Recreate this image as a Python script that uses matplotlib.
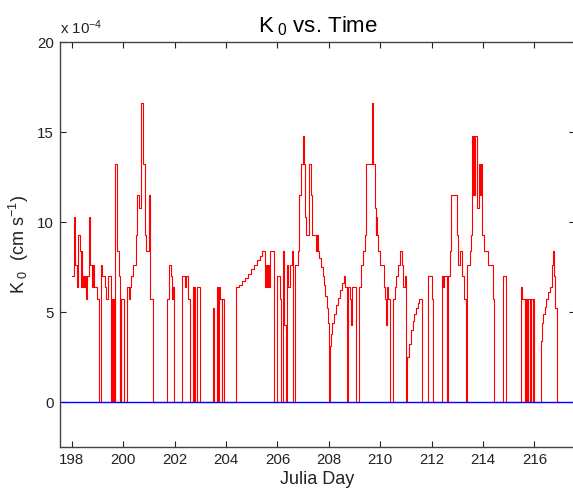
import numpy as np
import matplotlib
matplotlib.use('Agg')
import matplotlib.pyplot as plt

plt.rcParams['font.family'] = ['Liberation Sans', 'DejaVu Sans']
plt.rcParams['mathtext.fontset'] = 'custom'
plt.rcParams['mathtext.rm'] = 'Liberation Sans'
plt.rcParams['mathtext.it'] = 'Liberation Sans:italic'

# day of year and K0 (units of 1e-4 cm/s), step values
day = [198.00, 198.09, 198.14, 198.19, 198.25, 198.33, 198.36, 198.38, 198.41, 198.43,
       198.47, 198.50, 198.54, 198.61, 198.66, 198.71, 198.80, 198.83, 198.86, 198.97,
       199.06, 199.13, 199.18, 199.28, 199.33, 199.40, 199.54, 199.57, 199.59, 199.61,
       199.63, 199.65, 199.67, 199.69, 199.77, 199.82, 199.87, 199.89, 199.91, 199.93,
       200.02, 200.15, 200.21, 200.26, 200.29, 200.40, 200.50, 200.55, 200.62, 200.71,
       200.78, 200.85, 200.88, 200.99, 201.06, 201.17, 201.71, 201.79, 201.84, 201.88,
       201.91, 201.93, 201.97, 202.28, 202.39, 202.46, 202.52, 202.59, 202.72, 202.75,
       202.77, 202.80, 202.89, 202.98, 203.48, 203.53, 203.63, 203.67, 203.70, 203.72,
       203.78, 203.83, 203.85, 203.94, 204.38, 204.50, 204.62, 204.74, 204.86, 204.98,
       205.10, 205.22, 205.32, 205.41, 205.52, 205.55, 205.58, 205.62, 205.66, 205.70,
       205.86, 205.99, 206.10, 206.15, 206.20, 206.25, 206.33, 206.38, 206.43, 206.48,
       206.55, 206.59, 206.67, 206.80, 206.85, 206.90, 206.98, 207.04, 207.08, 207.13,
       207.24, 207.31, 207.34, 207.50, 207.53, 207.56, 207.63, 207.70, 207.76, 207.82,
       207.87, 207.92, 207.96, 208.00, 208.02, 208.05, 208.09, 208.14, 208.20, 208.27,
       208.35, 208.43, 208.51, 208.58, 208.63, 208.69, 208.74, 208.82, 208.85, 208.90,
       209.05, 209.18, 209.25, 209.33, 209.39, 209.46, 209.68, 209.73, 209.79, 209.83,
       209.85, 209.88, 209.92, 210.01, 210.14, 210.19, 210.23, 210.26, 210.30, 210.38,
       210.51, 210.57, 210.63, 210.70, 210.76, 210.84, 210.89, 210.97, 211.02, 211.06,
       211.13, 211.20, 211.26, 211.33, 211.40, 211.47, 211.52, 211.62, 211.87, 212.00,
       212.06, 212.39, 212.43, 212.47, 212.61, 212.63, 212.71, 212.77, 212.97, 213.03,
       213.10, 213.20, 213.27, 213.32, 213.36, 213.49, 213.55, 213.59, 213.62, 213.64,
       213.66, 213.68, 213.75, 213.77, 213.83, 213.86, 213.89, 213.92, 213.94, 213.98,
       214.03, 214.21, 214.37, 214.43, 214.78, 214.91, 215.46, 215.50, 215.62, 215.67,
       215.72, 215.77, 215.82, 215.87, 215.93, 215.95, 215.98, 216.24, 216.28, 216.34,
       216.41, 216.47, 216.54, 216.60, 216.67, 216.71, 216.76, 216.81, 216.89, 217.00]
k0 = [7.0, 10.3, 7.6, 6.4, 9.3, 8.4, 6.4, 8.4, 6.4, 7.0,
      6.4, 7.0, 5.7, 7.0, 10.3, 7.6, 6.4, 7.6, 6.4, 5.7,
      0, 7.6, 7.0, 6.4, 5.7, 7.0, 0, 5.7, 0, 5.7,
      0, 5.7, 0, 13.2, 8.4, 7.0, 0, 5.7, 0, 5.7,
      0, 6.4, 5.7, 6.4, 7.0, 7.6, 9.3, 11.5, 10.8, 16.6,
      13.2, 9.3, 8.4, 11.5, 5.7, 0, 5.7, 7.6, 7.0, 6.4,
      5.7, 6.4, 0, 7.0, 6.4, 7.0, 5.7, 0, 6.4, 0,
      6.4, 0, 6.4, 0, 5.2, 0, 6.4, 5.7, 0, 6.4,
      5.7, 0, 5.7, 0, 6.4, 6.5, 6.7, 6.9, 7.1, 7.4,
      7.6, 7.9, 8.1, 8.4, 6.4, 7.6, 6.4, 7.6, 6.4, 8.4,
      0, 7.0, 5.7, 0, 8.4, 4.3, 0, 7.6, 6.4, 7.6,
      8.4, 0, 7.6, 8.4, 11.5, 13.2, 14.8, 13.2, 10.3, 9.3,
      13.2, 11.5, 9.3, 8.4, 9.3, 8.4, 8.0, 7.5, 7.0, 6.5,
      5.9, 5.2, 4.4, 3.9, 0, 3.1, 3.8, 4.4, 4.9, 5.4,
      5.8, 6.2, 6.6, 7.0, 6.4, 0, 6.4, 5.7, 4.3, 6.4,
      0, 6.4, 7.6, 8.4, 9.3, 13.2, 16.6, 13.2, 10.8, 9.3,
      10.3, 9.3, 8.4, 7.6, 6.4, 5.7, 4.3, 6.4, 5.7, 0,
      5.7, 6.4, 7.0, 7.6, 8.4, 7.6, 6.4, 7.0, 0, 2.5,
      3.2, 4.0, 4.5, 4.9, 5.2, 5.5, 5.7, 0, 7.0, 5.7,
      0, 7.0, 6.4, 7.0, 0, 7.0, 8.4, 11.5, 9.3, 7.6,
      8.4, 7.0, 5.7, 0, 7.6, 8.4, 9.3, 14.8, 11.5, 14.8,
      11.5, 14.8, 13.2, 10.8, 13.2, 11.5, 13.2, 11.5, 13.2, 9.3,
      8.4, 7.6, 5.7, 0, 7.0, 0, 6.4, 5.7, 0, 5.7,
      0, 5.7, 0, 5.7, 0, 5.7, 0, 3.4, 4.4, 4.9,
      5.3, 5.7, 6.1, 6.4, 7.6, 8.4, 7.0, 5.2, 0, 0]

xticks = [198, 200, 202, 204, 206, 208, 210, 212, 214, 216]
yticks = [0, 5, 10, 15, 20]

fig = plt.figure(figsize=(5.73, 4.97), dpi=100)
# right edge sits just past the image border, as in the reference
ax = fig.add_axes([60 / 573, 50 / 497, 515 / 573, 405 / 497])

ax.plot(day, k0, color='r', lw=0.8, drawstyle='steps-post')
ax.axhline(0, color='b', lw=1.0)

ax.set_xlim(197.54, 217.58)
ax.set_ylim(-2.5, 20)
ax.set_xticks(xticks)
ax.set_yticks(yticks)
ax.tick_params(direction='in', top=True, right=True, length=4.3, width=0.8,
               labelsize=10.8, colors='#222222', pad=4.5)
for s in ax.spines.values():
    s.set_color('#444444')
    s.set_linewidth(1.0)

ax.text(0.0, 1.019, r'x 10$^{-4}$', transform=ax.transAxes, fontsize=10.8,
        color='#222222', ha='left', va='baseline')

ax.set_title(r'$\mathrm{K}_{\ 0}$ vs. Time', fontsize=16, pad=7)
ax.set_xlabel('Julia Day', fontsize=13, color='#222222', labelpad=3)
ax.set_ylabel(r'$\mathrm{K}_{\ 0}$  (cm s$^{-1}$)', fontsize=13, color='#222222', labelpad=4)

fig.savefig('out.png', dpi=100)
